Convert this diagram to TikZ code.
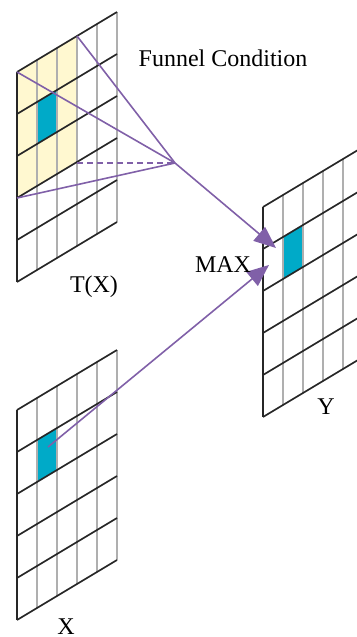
\documentclass[tikz,border=0pt]{standalone}
\usepackage{fontspec}
\setmainfont{Liberation Serif}
\usetikzlibrary{arrows.meta,calc}
\definecolor{fmyellow}{RGB}{255,248,208}
\definecolor{fmcyan}{RGB}{0,170,200}
\definecolor{fmpurple}{RGB}{128,96,168}
\definecolor{fmgray}{RGB}{175,175,175}
\tikzset{
  gvline/.style ={line width=1.1pt, fmgray},
  ghline/.style ={line width=0.85pt, black!85},
  fline/.style  ={line width=0.8pt, fmpurple},
  fdash/.style  ={fline, densely dashed},
  farrow/.style ={fline, -{Triangle[length=11pt, width=9pt]}},
  flabel/.style ={inner sep=0pt, font=\fontsize{12}{14}\selectfont},
}
% 5x5 slanted grid: origin x, origin y, name
\newcommand{\featgrid}[3]{%
  \coordinate (#3-o) at (#1,#2);
  \foreach \i in {1,...,5}
    \draw[gvline] ({#1+20*\i},{#2-12*\i}) -- ({#1+20*\i},{#2-12*\i+210});
  \foreach \j in {0,...,5}
    \draw[ghline] ({#1},{#2+42*\j}) -- ({#1+100},{#2-60+42*\j});
  \draw[ghline] (#1,#2) -- (#1,{#2+210});
}
% one cell of a grid: origin x, origin y, column, row
\newcommand{\featcell}[5]{%
  \fill[#5] ({#1+20*#3},{#2-12*#3+42*#4}) -- ++(20,-12) -- ++(0,42) -- ++(-20,12) -- cycle;
}

\begin{document}
\begin{tikzpicture}[x=0.5pt, y=-0.5pt]
  \useasboundingbox (0,0) rectangle (357,637);

  % fills
  \fill[fmyellow] (17,72) -- (77,36) -- (77,162) -- (17,198) -- cycle;
  \featcell{17}{72}{1}{1}{fmcyan}
  \featcell{17}{410}{1}{1}{fmcyan}
  \featcell{263}{207}{1}{1}{fmcyan}

  % grids
  \featgrid{17}{72}{tx}
  \featgrid{17}{410}{x}
  \featgrid{263}{207}{y}

  % funnel
  \coordinate (ytl) at (17,72);
  \coordinate (ytr) at (77,36);
  \coordinate (ybl) at (17,198);
  \coordinate (ybr) at (77,163);
  \coordinate (funnel) at (175,163);
  \coordinate (xsrc) at (48,447);
  \coordinate (maxA) at (276,248);
  \coordinate (maxB) at (269,265);

  \draw[fline] (ytl) -- (funnel);
  \draw[fline] (ytr) -- (funnel);
  \draw[fline] (ybl) -- (funnel);
  \draw[fdash] (ybr) -- (funnel);
  \draw[farrow] (funnel) -- (maxA);
  \draw[farrow] (xsrc) -- (maxB);

  % labels
  \node[flabel] (funnellbl) at (223,58) {Funnel Condition};
  \node[flabel] (maxlbl) at (223,265) {MAX};
  \node[flabel] (txlbl) at (94,287) {T(X)};
  \node[flabel] (xlbl) at (66,627) {X};
  \node[flabel] (ylbl) at (326,407) {Y};
\end{tikzpicture}
\end{document}
